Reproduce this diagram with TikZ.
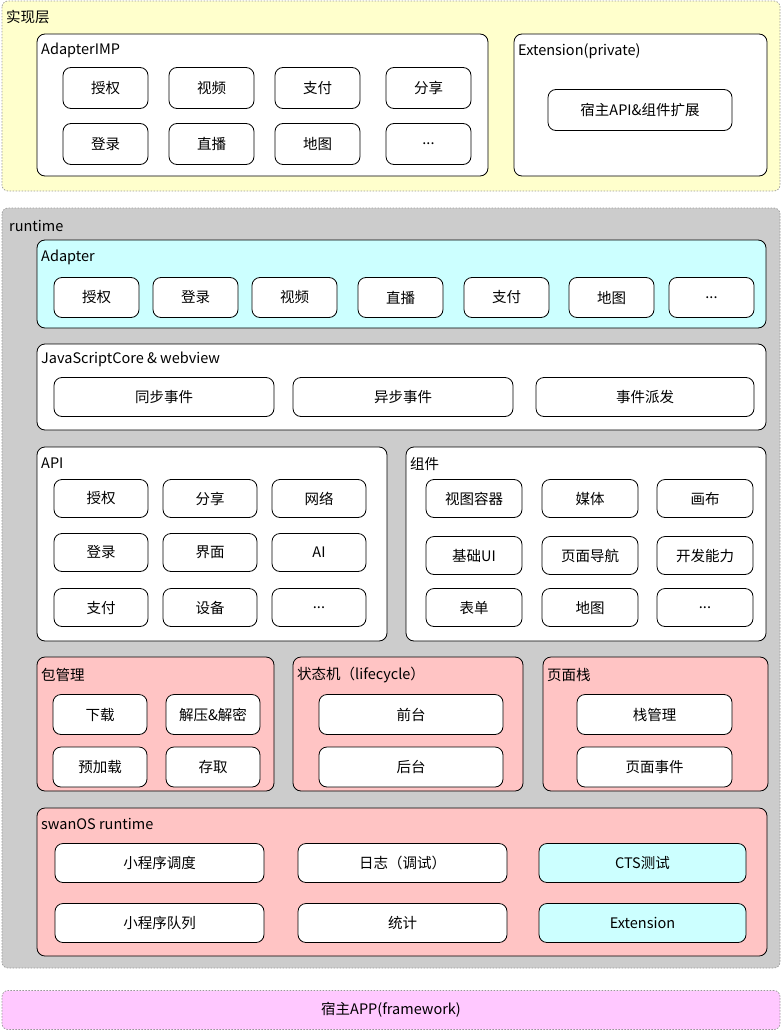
\documentclass[tikz,border=0pt]{standalone}
\usepackage{fontspec}
\setmainfont{Noto Sans CJK SC}
\definecolor{implyellow}{HTML}{FFFFCC}
\definecolor{rtgray}{HTML}{CCCCCC}
\definecolor{adcyan}{HTML}{CCFFFF}
\definecolor{modpink}{HTML}{FFC4C4}
\definecolor{hostviolet}{HTML}{FFC8FF}
\tikzset{
  layer/.style={draw=gray!80, dash pattern=on 1.5pt off 1.5pt, rounded corners=6pt, line width=0.7pt},
  panel/.style={draw=black, rounded corners=8pt, line width=0.8pt},
  btn/.style={draw=black, fill=white, rounded corners=8pt, line width=0.8pt, inner sep=0pt},
  title/.style={anchor=west, inner sep=0pt},
}
\begin{document}
\begin{tikzpicture}[x=1pt, y=-1pt, font=\fontsize{14.5}{16}\selectfont]
    \useasboundingbox (0,0) rectangle (782,1030);
    % implementation layer
    \draw[layer, fill=implyellow] (2,1) rectangle (780,191);
    \node[title] (implT) at (6,17) {实现层};
    \draw[panel, fill=white] (37,34) rectangle (488,176);
    \node[title] (impT) at (41,50) {AdapterIMP};
    \begin{scope}[every node/.style={btn, minimum width=85pt, minimum height=41pt}]
    \node (impAuth) at (105.5,88) {授权};
    \node (impVideo) at (211.5,88) {视频};
    \node (impPay) at (317.5,88) {支付};
    \node (impShare) at (428.5,88) {分享};
    \node (impLogin) at (105.5,144) {登录};
    \node (impLive) at (211.5,144) {直播};
    \node (impMap) at (317.5,144) {地图};
    \node (impMore) at (428.5,144) {...};
    \end{scope}
    \draw[panel, fill=white] (514,34) rectangle (767,176);
    \node[title] (extT) at (518,51) {Extension(private)};
    \node[btn, minimum width=184pt, minimum height=41pt] (extHost) at (640,110) {宿主API\&组件扩展};
    % runtime
    \draw[layer, fill=rtgray] (2,208) rectangle (780,968);
    \node[title] (rtT) at (9,226) {runtime};
    \draw[panel, fill=adcyan] (37,240) rectangle (766,328);
    \node[title] (adT) at (41,257) {Adapter};
    \begin{scope}[every node/.style={btn, minimum width=85pt, minimum height=40pt}]
    \node (adAuth) at (96.5,297.5) {授权};
    \node (adLogin) at (195.5,297.5) {登录};
    \node (adVideo) at (294.5,297.5) {视频};
    \node (adLive) at (400.5,297.5) {直播};
    \node (adPay) at (506.5,297.5) {支付};
    \node (adMap) at (611.5,297.5) {地图};
    \node (adMore) at (711.5,297.5) {...};
    \end{scope}
    \draw[panel, fill=white] (37,344) rectangle (766,430);
    \node[title] (jsT) at (41,359) {JavaScriptCore \& webview};
    \begin{scope}[every node/.style={btn, minimum width=220pt, minimum height=39pt}]
    \node (jsSync) at (164,397) {同步事件};
    \node (jsAsync) at (403,397) {异步事件};
    \node[minimum width=218pt] (jsDispatch) at (645,397) {事件派发};
    \end{scope}
    \draw[panel, fill=white] (37,447) rectangle (387,641);
    \node[title] (apiT) at (41,463) {API};
    \begin{scope}[every node/.style={btn, minimum width=94pt, minimum height=38pt}]
    \node (apiAuth) at (101,498.5) {授权};
    \node (apiShare) at (210,498.5) {分享};
    \node (apiNet) at (319,498.5) {网络};
    \node (apiLogin) at (101,552.5) {登录};
    \node (apiUI) at (210,552.5) {界面};
    \node (apiAI) at (319,552.5) {AI};
    \node (apiPay) at (101,607.5) {支付};
    \node (apiDev) at (210,607.5) {设备};
    \node (apiMore) at (319,607.5) {...};
    \end{scope}
    \draw[panel, fill=white] (406,447) rectangle (766,641);
    \node[title] (compT) at (410,464) {组件};
    \begin{scope}[every node/.style={btn, minimum width=96pt, minimum height=38pt}]
    \node (compView) at (474,498.5) {视图容器};
    \node (compMedia) at (590,498.5) {媒体};
    \node (compCanvas) at (705,498.5) {画布};
    \node (compBase) at (474,555.5) {基础UI};
    \node (compNav) at (590,555.5) {页面导航};
    \node (compOpen) at (705,555.5) {开发能力};
    \node (compForm) at (474,607.5) {表单};
    \node (compMap) at (590,607.5) {地图};
    \node (compMore) at (705,607.5) {...};
    \end{scope}
    % package, lifecycle, page stack
    \draw[panel, fill=modpink] (37,657) rectangle (274,791);
    \node[title] (pkgT) at (41,675) {包管理};
    \draw[panel, fill=modpink] (293,657) rectangle (523,791);
    \node[title] (lifeT) at (297,675) {状态机（lifecycle）};
    \draw[panel, fill=modpink] (543,657) rectangle (768,791);
    \node[title] (stackT) at (547,675) {页面栈};
    \begin{scope}[every node/.style={btn, minimum width=94pt, minimum height=40pt}]
    \node (pkgDown) at (100,714.5) {下载};
    \node (pkgUnzip) at (213,714.5) {解压\&解密};
    \node (pkgPre) at (100,767) {预加载};
    \node (pkgStore) at (213,767) {存取};
    \node[minimum width=184pt] (lifeFront) at (411,714.5) {前台};
    \node[minimum width=184pt] (lifeBack) at (411,767) {后台};
    \node[minimum width=155pt] (stackMgr) at (654.5,714.5) {栈管理};
    \node[minimum width=155pt] (stackEvt) at (654.5,767) {页面事件};
    \end{scope}
    % swanOS runtime
    \draw[panel, fill=modpink] (37,808) rectangle (767,956);
    \node[title] (swanT) at (41,824) {swanOS runtime};
    \begin{scope}[every node/.style={btn, minimum width=209pt, minimum height=39pt}]
    \node (swanSched) at (159.5,863) {小程序调度};
    \node (swanLog) at (402.5,863) {日志（调试）};
    \node[fill=adcyan, minimum width=207pt] (swanCts) at (642.5,863) {CTS测试};
    \node (swanQueue) at (159.5,923) {小程序队列};
    \node (swanStat) at (402.5,923) {统计};
    \node[fill=adcyan, minimum width=207pt] (swanExt) at (642.5,923) {Extension};
    \end{scope}
    % host
    \node[layer, fill=hostviolet, minimum width=778pt, minimum height=39pt, inner sep=0pt] (host) at (391,1010) {宿主APP(framework)};
\end{tikzpicture}
\end{document}
